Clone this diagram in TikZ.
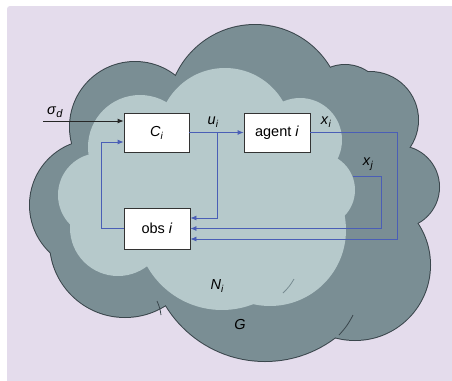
\documentclass[tikz,border=0pt]{standalone}
\usepackage{fontspec}
\setmainfont{Liberation Sans}
\usetikzlibrary{arrows.meta}
\definecolor{bgcol}{RGB}{228,220,236}
\definecolor{darkcloud}{RGB}{122,142,148}
\definecolor{lightcloud}{RGB}{182,201,203}
\definecolor{cloudedge}{RGB}{58,70,76}
\definecolor{notchlight}{RGB}{120,140,146}
\definecolor{linkblue}{RGB}{74,94,182}
\newcommand{\lbl}[2]{\textit{#1}\raisebox{-0.4ex}{\fontsize{10}{12}\selectfont\textit{#2}}}
\begin{document}
\begin{tikzpicture}[x=1pt,y=-1pt,
  font=\fontsize{14.5}{17}\selectfont,
  blk/.style={draw=black!80, fill=white, line width=0.8pt, inner sep=0pt},
  link/.style={draw=linkblue, line width=0.8pt},
  tip/.style={-{Latex[length=6pt,width=5pt]}},
  txt/.style={inner sep=0pt}]
\useasboundingbox (0,0) rectangle (452,380);
\fill[white] (0,0) rectangle (452,380);
\fill[bgcol, rounded corners=3pt] (7,6) rectangle (456,384);
% outer cloud: border then fill
\foreach \cx/\cy/\r in {135/127/65, 95/205/65, 125/242/75, 265/245/116, 355/265/75, 398/187/41, 370/120/48, 345/105/40, 255/112/87}{
  \draw[cloudedge, line width=2pt] (\cx,\cy) circle[radius=\r pt];
}
\foreach \cx/\cy/\r in {135/127/65, 95/205/65, 125/242/75, 265/245/116, 355/265/75, 398/187/41, 370/120/48, 345/105/40, 255/112/87, 260/180/100, 350/180/40, 150/180/60}{
  \fill[darkcloud] (\cx,\cy) circle[radius=\r pt];
}
\draw[cloudedge, line width=0.8pt] (157,301) to[bend left=8] (161,315);
\draw[cloudedge, line width=0.8pt] (353,315) to[bend left=8] (339,335);
% inner cloud
\foreach \cx/\cy/\r in {100/195/42, 140/147/52, 225/135/67, 300/140/42, 318/190/37, 270/230/76, 222/224/86, 118/228/48, 200/200/80}{
  \fill[lightcloud] (\cx,\cy) circle[radius=\r pt];
}
\draw[notchlight, line width=0.8pt] (294,279) to[bend left=8] (283,293);
% blocks
\node[blk, minimum width=65pt, minimum height=39pt] (ci) at (156.5,132.5) {\lbl{C}{i}};
\node[blk, minimum width=66pt, minimum height=39pt] (agent) at (277,132.5) {agent \textit{i}};
\node[blk, minimum width=66pt, minimum height=41pt] (obs) at (157,228.5) {obs \textit{i}};
% coordinates
\coordinate (sigin) at (43,121);
\coordinate (ubr) at (217,132.5);
\coordinate (fbl) at (101,228.5);
\coordinate (xiturn) at (397,132.5);
\coordinate (xjstart) at (353,176);
\coordinate (xjturn) at (381,176);
% connectors
\draw[draw=black!85, line width=0.8pt, tip] (sigin) -- ([yshift=11.5pt]ci.west);
\draw[link, tip] (ci.east) -- (agent.west);
\draw[link, tip] (ubr) |- ([yshift=10.5pt]obs.east);
\draw[link, tip] (obs.west) -- (fbl) |- ([yshift=-9.5pt]ci.west);
\draw[link, tip] (agent.east) -- (xiturn) |- ([yshift=-10.5pt]obs.east);
\draw[link, tip] (xjstart) -- (xjturn) |- (obs.east);
% labels
\node[txt] (lsig) at (55,112) {\textit{σ}\raisebox{-0.4ex}{\fontsize{11}{12}\selectfont\textit{d}}};
\node[txt] (lu) at (213,122) {\lbl{u}{i}};
\node[txt] (lxi) at (326,122) {\lbl{x}{i}};
\node[txt] (lxj) at (368,164) {\lbl{x}{j}};
\node[txt] (lni) at (217,286) {\lbl{N}{i}};
\node[txt] (lg) at (240,325) {\textit{G}};
\end{tikzpicture}
\end{document}
